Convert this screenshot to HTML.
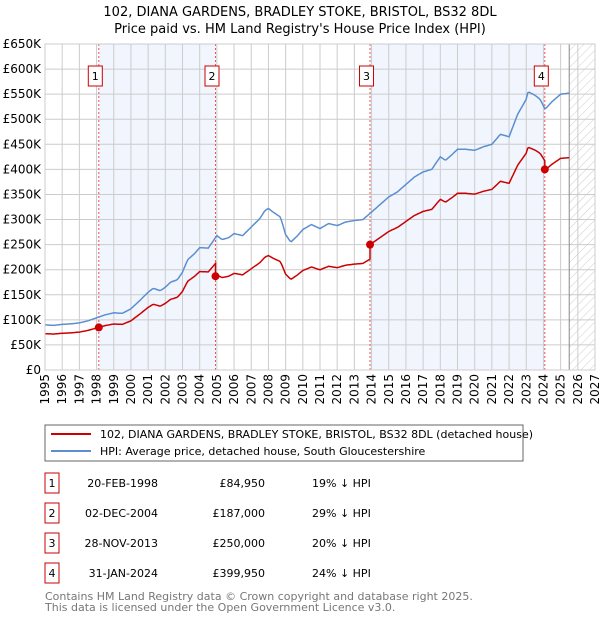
<!DOCTYPE html>
<html><head><meta charset="utf-8"><style>
body{margin:0;background:#fff;font-family:"DejaVu Sans","Liberation Sans",sans-serif;}
svg{display:block}
</style></head><body>
<svg id="c" width="600" height="620" xmlns="http://www.w3.org/2000/svg">
<defs><pattern id="hatch" width="6" height="6" patternUnits="userSpaceOnUse" patternTransform="rotate(45)"><line x1="0" y1="0" x2="0" y2="6" stroke="#ccc" stroke-width="1"/></pattern></defs>
<text x="300" y="16" text-anchor="middle" font-size="13">102, DIANA GARDENS, BRADLEY STOKE, BRISTOL, BS32 8DL</text>
<text x="300" y="33" text-anchor="middle" font-size="13">Price paid vs. HM Land Registry's House Price Index (HPI)</text>
<g id="plot"></g>
<g>
<rect x="45" y="425" width="478" height="36" fill="#fff" stroke="#666"/>
<line x1="51" y1="434" x2="91" y2="434" stroke="#cc0000" stroke-width="2"/>
<text x="100" y="438" font-size="11">102, DIANA GARDENS, BRADLEY STOKE, BRISTOL, BS32 8DL (detached house)</text>
<line x1="51" y1="451" x2="91" y2="451" stroke="#5b8fd0" stroke-width="2"/>
<text x="100" y="455" font-size="11">HPI: Average price, detached house, South Gloucestershire</text>
</g>
<g id="table" font-size="11"></g>
<text x="45" y="600" font-size="11" fill="#777">Contains HM Land Registry data © Crown copyright and database right 2025.</text>
<text x="45" y="611" font-size="11" fill="#777">This data is licensed under the Open Government Licence v3.0.</text>
</svg>
<script>
const hpiYears=[1995,1995.5,1996,1996.5,1997,1997.5,1998,1998.5,1999,1999.5,2000,2000.5,2001,2001.3,2001.7,2002,2002.3,2002.7,2003,2003.3,2003.7,2004,2004.5,2004.8,2005,2005.3,2005.7,2006,2006.5,2007,2007.5,2007.8,2008,2008.3,2008.7,2009,2009.3,2009.7,2010,2010.5,2011,2011.5,2012,2012.5,2013,2013.5,2014,2014.5,2015,2015.5,2016,2016.5,2017,2017.5,2018,2018.3,2018.7,2019,2019.5,2020,2020.5,2021,2021.5,2022,2022.5,2023,2023.1,2023.5,2023.8,2024.1,2024.5,2025,2025.5];
const hpiValues=[90,89,91,92,94,98,104,110,114,113,122,138,155,163,158,165,175,180,195,220,232,244,243,258,268,260,264,272,268,285,302,318,322,314,305,270,255,268,280,290,282,292,288,295,298,300,315,330,345,355,370,385,395,400,425,418,430,440,440,438,445,450,470,465,510,540,555,548,540,520,535,550,552];
const saleDates=[1998.13,2004.92,2013.91,2024.08];
const salePrices=[84950,187000,250000,399950];
const saleLabels=["20-FEB-1998","02-DEC-2004","28-NOV-2013","31-JAN-2024"];
const salePriceText=["£84,950","£187,000","£250,000","£399,950"];
const saleDiffText=["19% ↓ HPI","29% ↓ HPI","20% ↓ HPI","24% ↓ HPI"];
const yTicks=[0,50,100,150,200,250,300,350,400,450,500,550,600,650];
const yTickLabels=["£0","£50K","£100K","£150K","£200K","£250K","£300K","£350K","£400K","£450K","£500K","£550K","£600K","£650K"];
const xTicks=[1995,1996,1997,1998,1999,2000,2001,2002,2003,2004,2005,2006,2007,2008,2009,2010,2011,2012,2013,2014,2015,2016,2017,2018,2019,2020,2021,2022,2023,2024,2025,2026,2027];

const NS="http://www.w3.org/2000/svg";
const L=45,R=595,T=44,B=370,X0=1995,X1=2027,YMAX=650;
const xs=t=>L+(t-X0)/(X1-X0)*(R-L);
const ys=v=>B-v/YMAX*(B-T);
function mk(tag,attrs,parent){const e=document.createElementNS(NS,tag);for(const k in attrs)e.setAttribute(k,attrs[k]);parent.appendChild(e);return e;}
function hpiAt(t){if(t<=hpiYears[0])return hpiValues[0];for(let i=1;i<hpiYears.length;i++){if(t<=hpiYears[i]){const f=(t-hpiYears[i-1])/(hpiYears[i]-hpiYears[i-1]);return hpiValues[i-1]+f*(hpiValues[i]-hpiValues[i-1]);}}return hpiValues[hpiValues.length-1];}
const plot=document.getElementById('plot');
for(let i=0;i<saleDates.length;i+=2){const r=mk('rect',{x:xs(saleDates[i]),y:T,width:xs(saleDates[i+1])-xs(saleDates[i]),height:B-T,fill:'#eef3fc',opacity:0.8},plot);

}
const lastData=2025.5;
const hr=mk('rect',{x:xs(lastData),y:T,width:R-xs(lastData),height:B-T,fill:'url(#hatch)'},plot);


yTicks.forEach((v,i)=>{const g=mk('line',{x1:L,x2:R,y1:ys(v),y2:ys(v),stroke:'#ccc'},plot);


const t=mk('text',{x:L-4,y:ys(v)+4,'text-anchor':'end','font-size':12},plot);t.textContent=yTickLabels[i];

});
xTicks.forEach(y=>{const g=mk('line',{x1:xs(y),x2:xs(y),y1:T,y2:B,stroke:'#ccc'},plot);


const t=mk('text',{x:0,y:0,'font-size':12,transform:`translate(${xs(y)+4},${B+4}) rotate(-90)`,'text-anchor':'end'},plot);t.textContent=y;

});
const vl=mk('line',{x1:xs(lastData),x2:xs(lastData),y1:T,y2:B,stroke:'#888'},plot);


saleDates.forEach((d,i)=>{const l=mk('line',{x1:xs(d),x2:xs(d),y1:T,y2:B,stroke:'#e55','stroke-dasharray':'2,2'},plot);


const bx=xs(d)-3.5;const b=mk('rect',{x:bx-7,y:66,width:14,height:20,fill:'#fff',stroke:'#c00'},plot);


const t=mk('text',{x:bx,y:80,'text-anchor':'middle','font-size':11},plot);t.textContent=i+1;

});
const step=1/12;let hp=[];for(let t=X0;t<=lastData+1e-6;t+=step)hp.push(xs(t).toFixed(1)+','+ys(hpiAt(t)).toFixed(1));
const hl=mk('polyline',{points:hp.join(' '),fill:'none',stroke:'#5b8fd0','stroke-width':1.5},plot);


const factors=saleDates.map((d,i)=>salePrices[i]/1000/hpiAt(d));
let rp=[];
for(let t=X0;t<=lastData+1e-6;t+=step){
 let k=0;for(let i=0;i<saleDates.length;i++)if(t>=saleDates[i])k=i;
 for(let i=1;i<saleDates.length;i++){if(t-step<saleDates[i]&&t>=saleDates[i]){rp.push(xs(saleDates[i]).toFixed(1)+','+ys(hpiAt(saleDates[i])*factors[i-1]).toFixed(1));rp.push(xs(saleDates[i]).toFixed(1)+','+ys(salePrices[i]/1000).toFixed(1));}}
 rp.push(xs(t).toFixed(1)+','+ys(hpiAt(t)*factors[k]).toFixed(1));}
const pl=mk('polyline',{points:rp.join(' '),fill:'none',stroke:'#cc0000','stroke-width':1.5},plot);


saleDates.forEach((d,i)=>{const c=mk('circle',{cx:xs(d),cy:ys(salePrices[i]/1000),r:4,fill:'#cc0000'},plot);

});
const fr=mk('rect',{x:L,y:T,width:R-L,height:B-T,fill:'none',stroke:'#ccc'},plot);


const tb=document.getElementById('table');
saleDates.forEach((d,i)=>{const cy=483+i*30;
const b=mk('rect',{x:45,y:cy-10,width:14,height:20,fill:'#fff',stroke:'#c00'},tb);


const n=mk('text',{x:52,y:cy+4,'text-anchor':'middle'},tb);n.textContent=i+1;


const a=mk('text',{x:158,y:cy+4,'text-anchor':'end'},tb);a.textContent=saleLabels[i];


const p=mk('text',{x:265,y:cy+4,'text-anchor':'end'},tb);p.textContent=salePriceText[i];


const h=mk('text',{x:312,y:cy+4},tb);h.textContent=saleDiffText[i];

});
</script>
</body></html>
